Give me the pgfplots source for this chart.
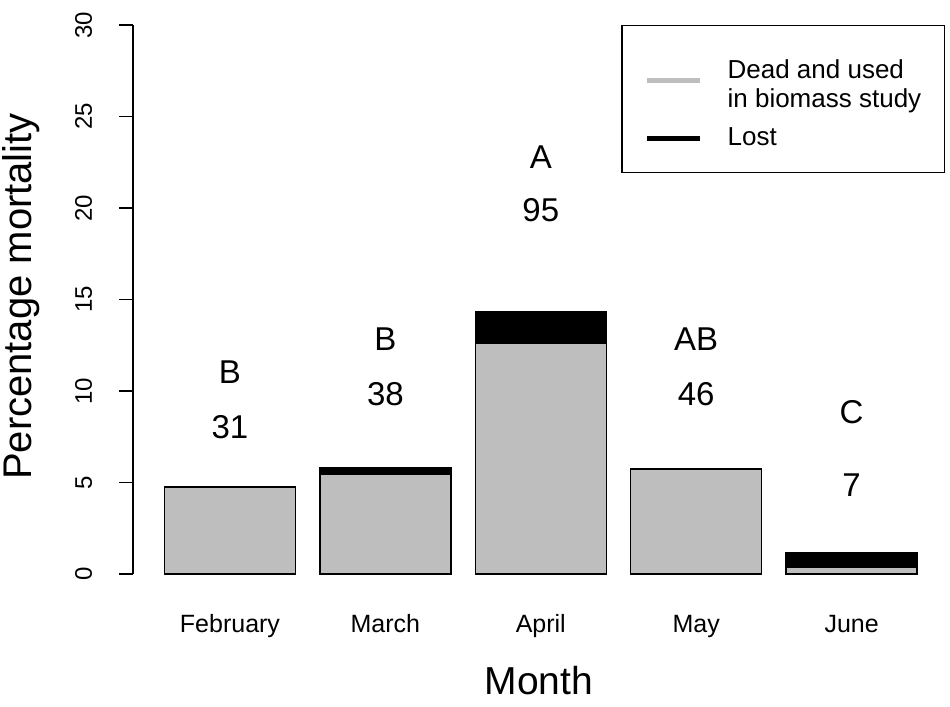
\documentclass[border=0pt]{standalone}
\usepackage{fontspec}
\setmainfont{Liberation Sans}
\usepackage{pgfplots}
\pgfplotsset{compat=1.18}
\definecolor{rgray}{HTML}{BEBEBE}
\tikzset{ann/.style={font=\fontsize{16.5}{20}\selectfont, anchor=base}}
\begin{document}
\begin{tikzpicture}
\path[use as bounding box] (0,0) rectangle (475pt,353.5pt);
\begin{axis}[
  at={(66.5pt,66.5pt)}, anchor=south west,
  scale only axis, width=406pt, height=274.5pt,
  xmin=-0.624, xmax=4.601, ymin=0, ymax=30,
  ybar stacked, bar width=0.843,
  axis lines=left,
  axis line style={-, line width=0.75pt},
  x axis line style={draw=none},
  xtick={0,1,2,3,4},
  xticklabels={February,March,April,May,June},
  xtick style={draw=none},
  ytick={0,5,10,15,20,25,30},
  yticklabels={0,5,10,15,20,25,30},
  tick align=outside, major tick length=7pt,
  ytick style={black, line width=0.75pt},
  xticklabel style={font=\fontsize{12.5}{14}\selectfont, anchor=base, yshift=-22.5pt},
  yticklabel style={font=\fontsize{12}{14}\selectfont, xshift=-13.5pt, rotate=90, anchor=base},
  ylabel={Percentage mortality},
  ylabel style={font=\fontsize{20}{24}\selectfont, at={(axis description cs:-0.1256,0.5055)}, anchor=base},
  xlabel={Month},
  xlabel style={font=\fontsize{19.5}{24}\selectfont, at={(axis description cs:0.5,-0.2204)}, anchor=base},
  clip=false,
  legend cell align=left,
  legend style={at={(1,1)}, anchor=north east, draw=black, line width=0.75pt,
    inner xsep=11.5pt, inner ysep=12pt, row sep=8.5pt, column sep=12.5pt,
    font=\fontsize{13}{14.5}\selectfont, cells={align=left},
    nodes={inner sep=0pt}},
]
\addplot[fill=rgray, draw=black, line width=0.75pt,
  legend image code/.code={\draw[rgray, line width=2.4pt] (0pt,0pt) -- (26.5pt,0pt);}]
  coordinates {(0,4.75) (1,5.46) (2,12.6) (3,5.75) (4,0.35)};
\addlegendentry{{\rule{0pt}{14.5pt}Dead and used\\in biomass study}}
\addplot[fill=black, draw=black, line width=0.75pt,
  legend image code/.code={\draw[black, line width=2.4pt] (0pt,0pt) -- (26.5pt,0pt);}]
  coordinates {(0,0) (1,0.32) (2,1.73) (3,0) (4,0.82)};
\addlegendentry{Lost}
\node[ann] at (axis cs:0,10.42) {B};
\node[ann] at (axis cs:0,7.38) {31};
\node[ann] at (axis cs:1,12.24) {B};
\node[ann] at (axis cs:1,9.23) {38};
\node[ann] at (axis cs:2,22.17) {A};
\node[ann] at (axis cs:2,19.25) {95};
\node[ann] at (axis cs:3,12.24) {AB};
\node[ann] at (axis cs:3,9.23) {46};
\node[ann] at (axis cs:4,8.25) {C};
\node[ann] at (axis cs:4,4.26) {7};
\end{axis}
\end{tikzpicture}
\end{document}
